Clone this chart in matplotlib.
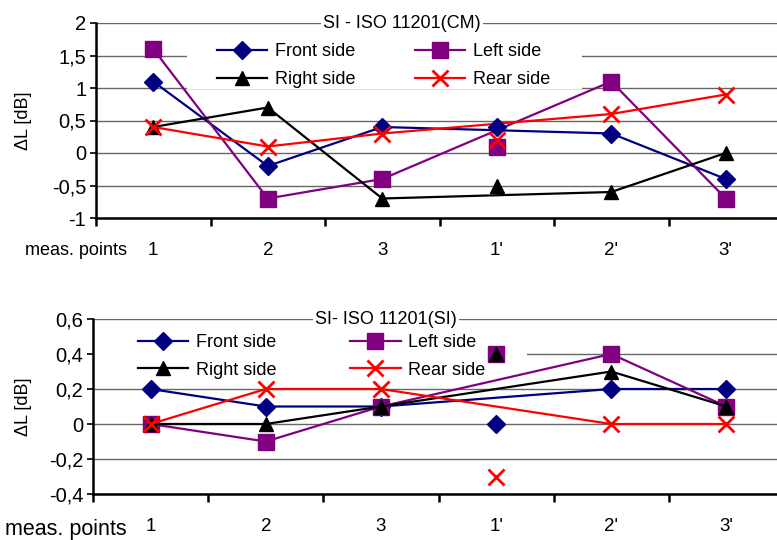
import numpy as np
import matplotlib
matplotlib.use("Agg")
import matplotlib.pyplot as plt
from matplotlib.patches import Rectangle
from matplotlib.ticker import FuncFormatter

points = ["1", "2", "3", "1'", "2'", "3'"]
series = ["Front side", "Left side", "Right side", "Rear side"]

# SI - ISO 11201(CM)
cm_front = [1.1, -0.2, 0.4, 0.4, 0.3, -0.4]
cm_left = [1.6, -0.7, -0.4, 0.1, 1.1, -0.7]
cm_right = [0.4, 0.7, -0.7, -0.5, -0.6, 0.0]
cm_rear = [0.4, 0.1, 0.3, 0.2, 0.6, 0.9]

# SI- ISO 11201(SI)
si_front = [0.2, 0.1, 0.1, 0.0, 0.2, 0.2]
si_left = [0.0, -0.1, 0.1, 0.4, 0.4, 0.1]
si_right = [0.0, 0.0, 0.1, 0.4, 0.3, 0.1]
si_rear = [0.0, 0.2, 0.2, -0.3, 0.0, 0.0]

colors = ["#000080", "#800080", "#000000", "#ff0000"]
markers = ["D", "s", "^", "x"]
msizes = [9, 11, 10, 11]

plt.rcParams["font.family"] = ["Liberation Sans", "DejaVu Sans"]

fig = plt.figure(figsize=(7.77, 5.40), dpi=100)

W, H = 777.0, 540.0


def comma(v, pos):
    s = f"{v:.1f}".rstrip("0").rstrip(".") if abs(v - round(v)) > 1e-9 else f"{int(round(v))}"
    return s.replace(".", ",")


def panel(rect, data, ylim, step, title, title_x, box, leg_anchor, colsp,
          ylab_x, mp_pos, mp_size):
    ax = fig.add_axes(rect)
    x = np.arange(len(points)) + 0.5
    keep = np.array([0, 1, 2, 4, 5])  # lines skip 1'
    handles = []
    for vals, c, m, ms, name in zip(data, colors, markers, msizes, series):
        v = np.array(vals)
        mew = 2 if m == "x" else 1
        h, = ax.plot(x[keep], v[keep], color=c, lw=1.6, marker=m, ms=ms, mew=mew,
                     mec=c, mfc=c, zorder=4, label=name, clip_on=False)
        ax.plot(x[3], v[3], ls="none", marker=m, ms=ms, mew=mew, mec=c, mfc=c,
                zorder=5, clip_on=False)
        handles.append(h)

    ax.set_xlim(0, len(points))
    ax.set_ylim(*ylim)
    ax.set_yticks(np.arange(ylim[0], ylim[1] + step / 2, step))
    ax.yaxis.set_major_formatter(FuncFormatter(comma))
    ax.set_xticks(np.arange(len(points) + 1))
    ax.set_xticklabels([])
    ax.set_xticks(x, minor=True)
    ax.set_xticklabels(points, minor=True, fontsize=13.5)
    ax.tick_params(axis="x", which="major", direction="out", length=6, width=1.8)
    ax.tick_params(axis="x", which="minor", length=0, pad=17)
    ax.tick_params(axis="y", direction="out", length=4, width=1.2, labelsize=14.5, pad=3)

    ax.grid(axis="y", color="#666666", lw=1.0, zorder=1)
    ax.set_axisbelow(True)
    for s in ["top", "right"]:
        ax.spines[s].set_visible(False)
    ax.spines["left"].set_linewidth(1.8)
    ax.spines["bottom"].set_linewidth(1.8)
    ax.spines["bottom"].set_zorder(6)

    ax.set_ylabel("\u0394L [dB]", fontsize=13)
    ax.yaxis.set_label_coords(ylab_x, 0.5)

    ax.add_patch(Rectangle((box[0], box[1]), box[2] - box[0], box[3] - box[1],
                           transform=ax.transAxes, facecolor="white", edgecolor="none",
                           zorder=2))
    ax.text(title_x, 1.0, title, transform=ax.transAxes, ha="center", va="center",
            fontsize=13, zorder=3,
            bbox=dict(facecolor="white", edgecolor="none", pad=1.5))

    order = [0, 2, 1, 3]
    leg = ax.legend([handles[i] for i in order], [series[i] for i in order], ncol=2,
                    frameon=False, loc="upper left", bbox_to_anchor=leg_anchor,
                    borderaxespad=0, borderpad=0, fontsize=13, handlelength=2.8,
                    handletextpad=0.4, columnspacing=colsp, labelspacing=0.6)
    leg.set_zorder(3)

    fig.text(mp_pos[0] / W, 1 - mp_pos[1] / H, "meas. points",
             ha="left", va="center", fontsize=mp_size)
    return ax


panel([96 / W, 1 - 218 / H, 687 / W, 195 / H],
      [cm_front, cm_left, cm_right, cm_rear], (-1, 2), 0.5,
      "SI - ISO 11201(CM)", (402 - 96) / 687,
      (0.132, 0.66, 0.707, 0.964), (0.176, 0.895), 3.3,
      (32 - 96) / 687, (25, 250), 13)

panel([93 / W, 1 - 494 / H, 691 / W, 175 / H],
      [si_front, si_left, si_right, si_rear], (-0.4, 0.6), 0.2,
      "SI- ISO 11201(SI)", (386 - 93) / 691,
      (0.0, 0.617, 0.628, 0.966), (0.065, 0.915), 4.1,
      (32 - 93) / 691, (5, 530), 15.5)

fig.savefig("out.png", dpi=100)
